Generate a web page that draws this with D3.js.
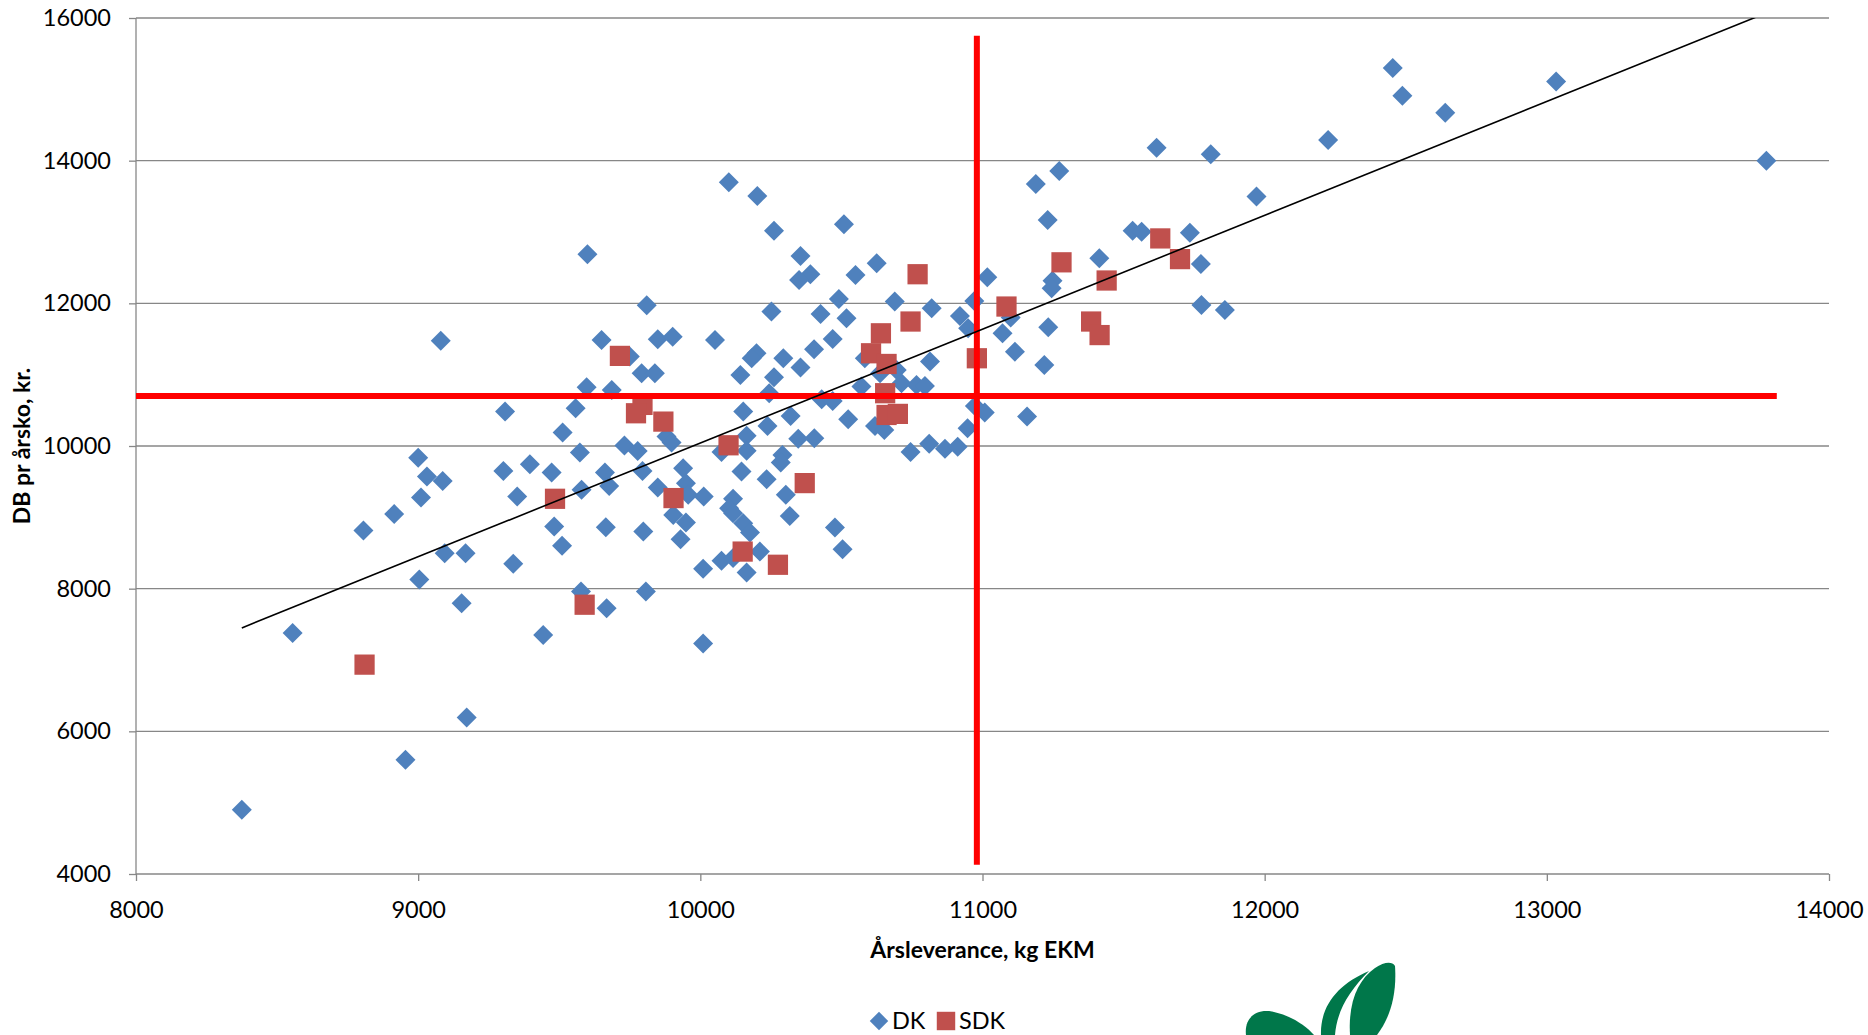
<!DOCTYPE html>
<html>
<head>
<meta charset="utf-8">
<script src="https://cdn.jsdelivr.net/npm/d3@7"></script>
<style>
  html, body { margin: 0; padding: 0; background: #ffffff; }
  svg { display: block; }
  text { font-family: Lato, "Liberation Sans", sans-serif; fill: #000; }
</style>
</head>
<body>
<svg id="chart" width="1868" height="1035"></svg>
<script>
// ---------------- DATA ----------------
const dkX = [8375,8555,8806,8955,8915,9000,9004,9010,9031,9087,9080,9094,9168,9154,9172,
  9302,9308,9351,9337,9396,9443,9473,9482,9510,9512,9558,9573,9579,9577,9600,9597,9650,9662,9677,9665,9668,9686,9731,9750,9778,9792,9795,9798,9807,9810,9839,9849,9849,9880,9898,9902,9904,9939,9949,9957,9949,9930,
  10012,10010,10010,10052,10075,10101,10202,10261,10509,10355,10390,10350,10550,10625,11017,10252,10491,10426,10518,10689,10820,10971,10920,10949,11071,11115,
  10199,10182,10294,10403,10469,10142,10261,10355,10244,10583,10637,10696,10713,10766,10796,10814,10571,10430,10469,10152,10320,10524,10238,10619,10652,10973,11008,10947,11158,
  10164,10347,10404,10291,10164,10075,10745,10811,10867,10912,10146,10235,10285,10303,10317,10116,10102,10116,10152,10176,10211,10116,10164,10477,10504,
  11617,11809,11272,11189,11231,11971,11532,11564,11735,11774,11414,11248,11245,11100,11233,11219,11776,11859,12454,12488,12640,12225,13033,13778];
const dkY = [4900,7380,8815,5600,9045,9835,8130,9277,9571,9511,11477,8497,8497,7797,6195,
  9651,10482,9291,8348,9745,7352,9627,8871,8600,10188,10529,9908,9385,7960,12688,10824,11487,9627,9441,8862,7727,10786,10008,11255,9930,11020,9651,8800,7960,11973,11020,11497,9417,10132,10048,11533,9034,9689,9479,9315,8926,8694,
  9291,8278,7230,11487,8390,13697,13505,13019,13109,12664,12408,12328,12398,12562,12366,11884,12062,11851,11791,12024,11931,12034,11823,11651,11581,11323,
  11301,11231,11231,11357,11501,10996,10964,11099,10740,11231,11020,11067,10880,10856,10842,11183,10833,10656,10632,10482,10422,10376,10282,10282,10226,10562,10468,10249,10412,
  10142,10100,10109,9875,9935,9915,9915,10030,9962,9988,9641,9535,9767,9315,9020,9259,9128,9058,8918,8786,8520,8430,8226,8856,8554,
  14182,14090,13856,13673,13169,13496,13019,13005,12991,12552,12632,12318,12212,11800,11665,11137,11978,11907,15300,14910,14670,14290,15110,14000];

const sdkX = [8810,9485,9590,9715,9795,9772,9869,9905,10100,10150,10275,10370,10770,10745,10640,10605,10660,10980,10655,10660,10700,11085,11630,11700,11280,11440,11385,11415];
const sdkY = [6935,9260,7775,11263,10576,10459,10342,9270,10010,8520,8335,9480,12408,11745,11580,11300,11150,11230,10740,10435,10450,11955,12910,12620,12575,12320,11745,11555];

// reference lines (red) and linear trendline endpoints
const refVX = [10980, 10980], refVY = [4130, 15750];
const refHX = [8000, 13815],  refHY = [10700, 10700];
const trendX = [8375, 13790], trendY = [7450, 16090];

const xTicks = [8000, 9000, 10000, 11000, 12000, 13000, 14000];
const yTicks = [4000, 6000, 8000, 10000, 12000, 14000, 16000];
const seriesNames = ["DK", "SDK"];
const xTitle = "Årsleverance, kg EKM";
const yTitle = "DB pr årsko, kr.";

// ---------------- LAYOUT ----------------
const L = 136, R = 1829, T = 18, B = 874;
const BLUE = "#4F81BD", RED = "#C0504D", GRID = "#878787";

const svg = d3.select("#chart");
const x = d3.scaleLinear().domain([8000, 14000]).range([L, R]);
const y = d3.scaleLinear().domain([4000, 16000]).range([B, T]);

svg.append("defs").append("clipPath").attr("id", "plotclip")
  .append("rect").attr("x", L).attr("y", T).attr("width", R - L).attr("height", B - T);

// gridlines
svg.append("g").selectAll("line").data(yTicks.filter(d => d !== 4000)).join("line")
  .attr("x1", L).attr("x2", R).attr("y1", d => y(d)).attr("y2", d => y(d))
  .attr("stroke", GRID).attr("stroke-width", 1.3);

// axes
const yAxis = svg.append("g").attr("transform", `translate(${L},0)`)
  .call(d3.axisLeft(y).tickValues(yTicks).tickSize(7).tickPadding(18).tickFormat(d3.format("d")));
const xAxis = svg.append("g").attr("transform", `translate(0,${B})`)
  .call(d3.axisBottom(x).tickValues(xTicks).tickSize(7).tickPadding(20).tickFormat(d3.format("d")));
[yAxis, xAxis].forEach(g => {
  g.select(".domain").attr("stroke", GRID).attr("stroke-width", 1.3);
  g.selectAll(".tick line").attr("stroke", GRID).attr("stroke-width", 1.3);
  g.selectAll(".tick text").attr("font-size", 23.5).attr("fill", "#000")
    .attr("font-family", "Lato, 'Liberation Sans', sans-serif");
});
yAxis.select(".domain").attr("d", `M0,${T}V${B}`);
xAxis.select(".domain").attr("d", `M${L},0H${R}`);

// markers
const plot = svg.append("g");
const diamond = d3.symbol().type(d3.symbolSquare).size(200);
plot.append("g").selectAll("path").data(dkX.map((v, i) => [v, dkY[i]])).join("path")
  .attr("d", diamond)
  .attr("transform", d => `translate(${x(d[0])},${y(d[1])}) rotate(45)`)
  .attr("fill", BLUE);
const square = d3.symbol().type(d3.symbolSquare).size(410);
plot.append("g").selectAll("path").data(sdkX.map((v, i) => [v, sdkY[i]])).join("path")
  .attr("d", square)
  .attr("transform", d => `translate(${x(d[0])},${y(d[1])})`)
  .attr("fill", RED);

// red reference lines
const line = d3.line().x(d => x(d[0])).y(d => y(d[1]));
svg.append("path").datum(refVX.map((v, i) => [v, refVY[i]])).attr("d", line)
  .attr("stroke", "#FF0000").attr("stroke-width", 6).attr("fill", "none");
svg.append("path").datum(refHX.map((v, i) => [v, refHY[i]])).attr("d", line)
  .attr("stroke", "#FF0000").attr("stroke-width", 6).attr("fill", "none");

// trendline
svg.append("path").datum(trendX.map((v, i) => [v, trendY[i]])).attr("d", line)
  .attr("clip-path", "url(#plotclip)")
  .attr("stroke", "#000").attr("stroke-width", 1.6).attr("fill", "none");

// axis titles
svg.append("text").attr("x", (L + R) / 2).attr("y", 958).attr("text-anchor", "middle")
  .attr("font-size", 23).attr("font-weight", "bold").text(xTitle);
svg.append("text").attr("transform", `translate(30,${(T + B) / 2}) rotate(-90)`)
  .attr("text-anchor", "middle").attr("font-size", 23).attr("font-weight", "bold").text(yTitle);

// legend
const lg = svg.append("g");
lg.append("path").attr("d", d3.symbol().type(d3.symbolSquare).size(170))
  .attr("transform", "translate(879,1021) rotate(45)").attr("fill", BLUE);
lg.append("text").attr("x", 892).attr("y", 1029).attr("font-size", 23.5).text(seriesNames[0]);
lg.append("path").attr("d", d3.symbol().type(d3.symbolSquare).size(340))
  .attr("transform", "translate(946,1021)").attr("fill", RED);
lg.append("text").attr("x", 959).attr("y", 1029).attr("font-size", 23.5).text(seriesNames[1]);

// logo (partial, green leaves at the bottom)
const logo = svg.append("g").attr("fill", "#00774A");
logo.append("path").attr("d", "M1246,1035 C1244,1018 1256,1008 1274,1012 C1292,1016 1306,1026 1314,1035 Z");
logo.append("path").attr("d", "M1321,1035 C1320,1006 1338,984 1369,971 C1350,990 1337,1010 1335,1035 Z");
logo.append("path").attr("d", "M1350,1035 C1348,1002 1358,980 1375,968 C1384,962 1392,961 1395,966 C1397,995 1390,1018 1377,1035 Z");
</script>
</body>
</html>
